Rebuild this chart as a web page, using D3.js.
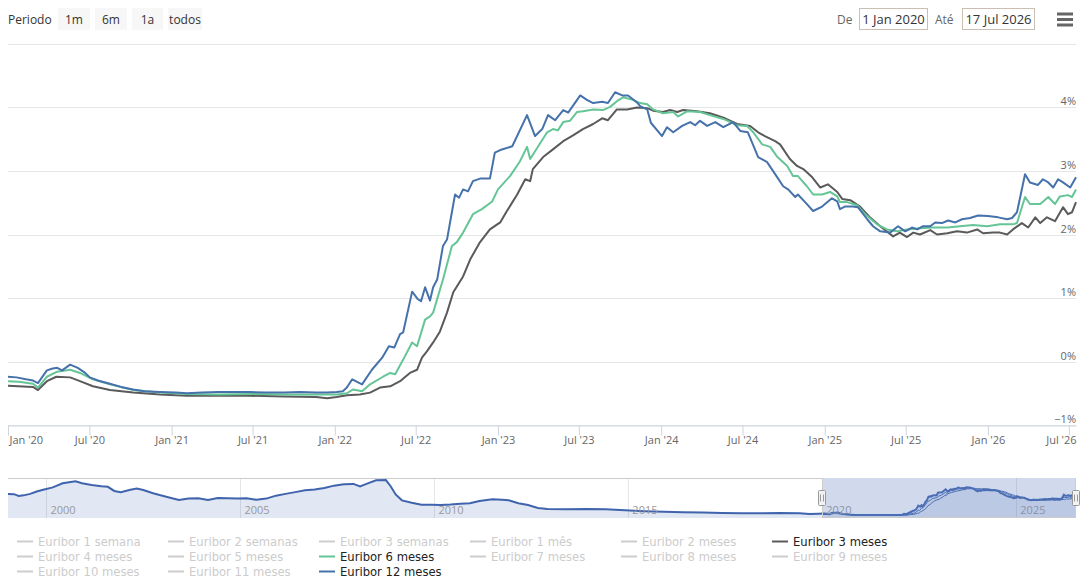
<!DOCTYPE html>
<html>
<head>
<meta charset="utf-8">
<script src="https://cdn.jsdelivr.net/npm/d3@7"></script>
<style>
  body { margin: 0; background: #fff; }
  svg { display: block; font-family: "Open Sans", sans-serif; }
</style>
</head>
<body>
<div id="chart"></div>
<script>
// ---- data ----
const startDate = "2020-01-01";
const endDate = "2026-07-17";

const eur3m = [
  ["2020-01-01", -0.38], ["2020-02-26", -0.40], ["2020-03-08", -0.45], ["2020-03-28", -0.31],
  ["2020-04-18", -0.24], ["2020-05-19", -0.25], ["2020-06-10", -0.31], ["2020-07-09", -0.39],
  ["2020-08-16", -0.45], ["2020-10-07", -0.49], ["2020-12-06", -0.52], ["2021-02-04", -0.54],
  ["2021-04-15", -0.54], ["2021-06-25", -0.54], ["2021-09-10", -0.55], ["2021-11-20", -0.56],
  ["2021-12-15", -0.58], ["2022-01-05", -0.56], ["2022-01-28", -0.53], ["2022-02-26", -0.52],
  ["2022-03-21", -0.49], ["2022-04-12", -0.41], ["2022-05-05", -0.39], ["2022-05-27", -0.31],
  ["2022-06-18", -0.18], ["2022-07-04", -0.13], ["2022-07-15", 0.06], ["2022-07-26", 0.16],
  ["2022-08-09", 0.30], ["2022-08-24", 0.47], ["2022-09-09", 0.77], ["2022-09-23", 1.09],
  ["2022-10-15", 1.34], ["2022-10-31", 1.61], ["2022-11-22", 1.88], ["2022-12-14", 2.08],
  ["2023-01-06", 2.19], ["2023-01-21", 2.37], ["2023-02-13", 2.63], ["2023-03-03", 2.87],
  ["2023-03-14", 2.84], ["2023-03-20", 3.03], ["2023-04-12", 3.22], ["2023-05-04", 3.34],
  ["2023-05-27", 3.47], ["2023-06-18", 3.56], ["2023-07-10", 3.66], ["2023-08-02", 3.74],
  ["2023-08-22", 3.83], ["2023-09-04", 3.80], ["2023-09-24", 3.97], ["2023-10-17", 3.97],
  ["2023-11-08", 4.00], ["2023-12-01", 3.99], ["2023-12-14", 3.95], ["2024-01-05", 3.93],
  ["2024-01-21", 3.96], ["2024-02-06", 3.93], ["2024-02-19", 3.96], ["2024-03-21", 3.94],
  ["2024-04-19", 3.91], ["2024-05-23", 3.83], ["2024-06-19", 3.74], ["2024-07-18", 3.71],
  ["2024-08-05", 3.61], ["2024-08-20", 3.55], ["2024-09-12", 3.47], ["2024-09-23", 3.42],
  ["2024-10-15", 3.19], ["2024-10-31", 3.08], ["2024-11-14", 3.03], ["2024-12-04", 2.90],
  ["2024-12-22", 2.74], ["2025-01-08", 2.79], ["2025-01-29", 2.67], ["2025-02-09", 2.56],
  ["2025-02-27", 2.54], ["2025-03-21", 2.44], ["2025-04-12", 2.27], ["2025-05-05", 2.13],
  ["2025-06-03", 1.97], ["2025-06-18", 2.03], ["2025-07-04", 1.96], ["2025-07-18", 2.03],
  ["2025-08-02", 2.00], ["2025-08-25", 2.07], ["2025-09-09", 2.00], ["2025-10-02", 2.02],
  ["2025-10-24", 2.05], ["2025-11-15", 2.03], ["2025-12-08", 2.08], ["2025-12-21", 2.02],
  ["2026-01-13", 2.03], ["2026-01-28", 2.03], ["2026-02-13", 2.00], ["2026-02-26", 2.08],
  ["2026-03-18", 2.18], ["2026-04-01", 2.11], ["2026-04-17", 2.27], ["2026-04-28", 2.18],
  ["2026-05-13", 2.27], ["2026-05-31", 2.21], ["2026-06-18", 2.43], ["2026-06-29", 2.32],
  ["2026-07-08", 2.35], ["2026-07-17", 2.51]
];

const eur6m = [
  ["2020-01-01", -0.31], ["2020-01-25", -0.32], ["2020-02-26", -0.35], ["2020-03-08", -0.41],
  ["2020-03-28", -0.24], ["2020-04-20", -0.16], ["2020-05-19", -0.13], ["2020-06-10", -0.18],
  ["2020-07-09", -0.28], ["2020-08-16", -0.36], ["2020-10-07", -0.45], ["2020-12-06", -0.49],
  ["2021-02-04", -0.51], ["2021-04-15", -0.52], ["2021-06-25", -0.51], ["2021-09-10", -0.52],
  ["2021-11-20", -0.52], ["2022-01-05", -0.52], ["2022-01-28", -0.50], ["2022-02-11", -0.44],
  ["2022-03-03", -0.47], ["2022-03-21", -0.36], ["2022-04-19", -0.24], ["2022-05-05", -0.18],
  ["2022-05-16", -0.20], ["2022-06-03", 0.03], ["2022-06-23", 0.30], ["2022-07-04", 0.24],
  ["2022-07-22", 0.66], ["2022-08-02", 0.71], ["2022-08-09", 0.77], ["2022-08-31", 1.29],
  ["2022-09-20", 1.82], ["2022-10-01", 1.88], ["2022-10-15", 2.03], ["2022-11-06", 2.32],
  ["2022-11-26", 2.40], ["2022-12-19", 2.52], ["2023-01-01", 2.71], ["2023-01-28", 2.92],
  ["2023-02-19", 3.15], ["2023-03-07", 3.38], ["2023-03-14", 3.19], ["2023-03-25", 3.31],
  ["2023-04-21", 3.61], ["2023-05-04", 3.66], ["2023-05-15", 3.64], ["2023-05-27", 3.77],
  ["2023-06-11", 3.79], ["2023-06-27", 3.93], ["2023-07-10", 3.94], ["2023-08-02", 3.97],
  ["2023-08-24", 3.96], ["2023-09-09", 4.01], ["2023-09-24", 4.10], ["2023-10-08", 4.16],
  ["2023-10-30", 4.12], ["2023-11-15", 4.07], ["2023-12-01", 4.05], ["2023-12-14", 3.97],
  ["2024-01-05", 3.91], ["2024-01-28", 3.93], ["2024-02-08", 3.86], ["2024-02-28", 3.94],
  ["2024-03-28", 3.93], ["2024-04-19", 3.88], ["2024-05-19", 3.82], ["2024-06-19", 3.72],
  ["2024-07-11", 3.71], ["2024-07-25", 3.61], ["2024-08-14", 3.42], ["2024-09-01", 3.38],
  ["2024-09-16", 3.23], ["2024-10-09", 3.08], ["2024-10-22", 2.92], ["2024-11-02", 2.92],
  ["2024-11-22", 2.76], ["2024-12-06", 2.63], ["2024-12-26", 2.63], ["2025-01-13", 2.67],
  ["2025-01-29", 2.60], ["2025-02-04", 2.51], ["2025-02-20", 2.51], ["2025-03-14", 2.46],
  ["2025-04-06", 2.29], ["2025-04-28", 2.16], ["2025-05-20", 2.08], ["2025-06-12", 2.05],
  ["2025-07-04", 2.08], ["2025-08-02", 2.10], ["2025-08-31", 2.11], ["2025-10-02", 2.11],
  ["2025-10-31", 2.13], ["2025-11-29", 2.15], ["2025-12-30", 2.13], ["2026-01-28", 2.16],
  ["2026-02-26", 2.16], ["2026-03-07", 2.18], ["2026-03-25", 2.59], ["2026-04-05", 2.48],
  ["2026-04-28", 2.48], ["2026-05-16", 2.59], ["2026-05-31", 2.48], ["2026-06-11", 2.60],
  ["2026-06-29", 2.62], ["2026-07-08", 2.59], ["2026-07-17", 2.71]
];

const eur12m = [
  ["2020-01-01", -0.24], ["2020-01-20", -0.25], ["2020-02-10", -0.28], ["2020-02-26", -0.30],
  ["2020-03-08", -0.34], ["2020-03-28", -0.14], ["2020-04-10", -0.11], ["2020-04-20", -0.10],
  ["2020-05-01", -0.14], ["2020-05-19", -0.05], ["2020-06-05", -0.10], ["2020-06-20", -0.17],
  ["2020-07-02", -0.25], ["2020-07-20", -0.30], ["2020-08-16", -0.35], ["2020-09-10", -0.40],
  ["2020-10-07", -0.44], ["2020-11-01", -0.47], ["2020-12-06", -0.48], ["2021-01-10", -0.49],
  ["2021-02-04", -0.50], ["2021-03-10", -0.49], ["2021-04-15", -0.48], ["2021-05-20", -0.48],
  ["2021-06-25", -0.48], ["2021-08-01", -0.49], ["2021-09-10", -0.49], ["2021-10-15", -0.48],
  ["2021-11-20", -0.49], ["2021-12-15", -0.49], ["2022-01-05", -0.48], ["2022-01-19", -0.47],
  ["2022-01-28", -0.41], ["2022-02-09", -0.28], ["2022-03-03", -0.36], ["2022-03-25", -0.13],
  ["2022-04-17", 0.06], ["2022-05-02", 0.24], ["2022-05-14", 0.22], ["2022-05-27", 0.43],
  ["2022-06-03", 0.46], ["2022-06-23", 1.10], ["2022-07-06", 0.98], ["2022-07-13", 0.95],
  ["2022-07-22", 1.17], ["2022-08-02", 0.96], ["2022-08-09", 1.17], ["2022-08-18", 1.29],
  ["2022-08-31", 1.82], ["2022-09-09", 1.92], ["2022-09-27", 2.63], ["2022-10-06", 2.58],
  ["2022-10-15", 2.71], ["2022-10-26", 2.68], ["2022-11-06", 2.84], ["2022-11-22", 2.88],
  ["2022-12-14", 2.88], ["2022-12-25", 3.29], ["2023-01-06", 3.33], ["2023-02-02", 3.39],
  ["2023-03-07", 3.88], ["2023-03-25", 3.55], ["2023-04-10", 3.66], ["2023-04-23", 3.88],
  ["2023-05-09", 3.80], ["2023-05-27", 3.96], ["2023-06-07", 3.92], ["2023-07-04", 4.19],
  ["2023-07-19", 4.12], ["2023-08-02", 4.07], ["2023-08-22", 4.09], ["2023-09-04", 4.07],
  ["2023-09-20", 4.24], ["2023-10-06", 4.19], ["2023-10-19", 4.19], ["2023-11-08", 4.08],
  ["2023-11-15", 4.02], ["2023-12-01", 3.97], ["2023-12-09", 3.76], ["2024-01-03", 3.55],
  ["2024-01-14", 3.69], ["2024-01-28", 3.61], ["2024-02-17", 3.71], ["2024-03-06", 3.77],
  ["2024-03-17", 3.72], ["2024-03-28", 3.79], ["2024-04-13", 3.71], ["2024-05-01", 3.77],
  ["2024-05-19", 3.69], ["2024-06-10", 3.77], ["2024-06-26", 3.63], ["2024-07-13", 3.61],
  ["2024-08-05", 3.22], ["2024-08-25", 3.14], ["2024-09-12", 2.95], ["2024-09-30", 2.76],
  ["2024-10-11", 2.71], ["2024-10-27", 2.59], ["2024-11-02", 2.63], ["2024-11-18", 2.51],
  ["2024-12-06", 2.37], ["2024-12-26", 2.44], ["2025-01-17", 2.57], ["2025-01-29", 2.52],
  ["2025-02-04", 2.40], ["2025-02-15", 2.44], ["2025-03-05", 2.44], ["2025-03-16", 2.43],
  ["2025-04-06", 2.24], ["2025-04-19", 2.13], ["2025-05-05", 2.05], ["2025-05-27", 2.03],
  ["2025-06-14", 2.13], ["2025-06-30", 2.05], ["2025-07-15", 2.11], ["2025-07-27", 2.08],
  ["2025-08-09", 2.13], ["2025-08-25", 2.13], ["2025-09-05", 2.19], ["2025-09-20", 2.18],
  ["2025-10-04", 2.22], ["2025-10-20", 2.19], ["2025-11-04", 2.24], ["2025-11-22", 2.26],
  ["2025-12-10", 2.30], ["2026-01-01", 2.29], ["2026-01-24", 2.27], ["2026-02-13", 2.24],
  ["2026-02-24", 2.26], ["2026-03-07", 2.35], ["2026-03-25", 2.95], ["2026-04-05", 2.82],
  ["2026-04-23", 2.78], ["2026-05-04", 2.87], ["2026-05-16", 2.82], ["2026-05-27", 2.74],
  ["2026-06-07", 2.87], ["2026-06-18", 2.82], ["2026-07-04", 2.74], ["2026-07-17", 2.90]
];

// older 12m history, only seen in the navigator
const hist12m = [
  ["1999-01-04", 3.10], ["1999-03-01", 3.05], ["1999-04-15", 2.75], ["1999-06-01", 2.85],
  ["1999-08-01", 3.10], ["1999-10-01", 3.50], ["1999-12-01", 3.80], ["2000-03-01", 4.20],
  ["2000-06-01", 4.90], ["2000-10-01", 5.25], ["2000-12-01", 4.90], ["2001-03-01", 4.60],
  ["2001-06-01", 4.40], ["2001-08-01", 4.30], ["2001-10-01", 3.60], ["2001-12-01", 3.40],
  ["2002-03-01", 3.80], ["2002-05-01", 4.00], ["2002-07-01", 3.75], ["2002-10-01", 3.20],
  ["2002-12-01", 2.90], ["2003-03-01", 2.50], ["2003-06-01", 2.05], ["2003-09-01", 2.30],
  ["2003-12-01", 2.35], ["2004-03-01", 2.05], ["2004-06-01", 2.40], ["2004-12-01", 2.30],
  ["2005-03-01", 2.35], ["2005-06-01", 2.10], ["2005-09-01", 2.30], ["2005-12-01", 2.80],
  ["2006-03-01", 3.10], ["2006-06-01", 3.40], ["2006-09-01", 3.70], ["2006-12-01", 3.85],
  ["2007-03-01", 4.10], ["2007-06-01", 4.50], ["2007-09-01", 4.75], ["2007-12-01", 4.80],
  ["2008-02-01", 4.35], ["2008-04-01", 4.80], ["2008-07-01", 5.40], ["2008-10-01", 5.45],
  ["2008-11-15", 4.40], ["2009-01-01", 3.00], ["2009-03-01", 2.00], ["2009-06-01", 1.60],
  ["2009-09-01", 1.26], ["2009-12-01", 1.25], ["2010-03-01", 1.20], ["2010-06-01", 1.28],
  ["2010-09-01", 1.42], ["2010-12-01", 1.50], ["2011-03-01", 1.90], ["2011-07-01", 2.18],
  ["2011-10-01", 2.10], ["2011-12-01", 2.00], ["2012-03-01", 1.50], ["2012-06-01", 1.20],
  ["2012-09-01", 0.70], ["2012-12-01", 0.55], ["2013-06-01", 0.50], ["2013-12-01", 0.55],
  ["2014-06-01", 0.50], ["2014-12-01", 0.33], ["2015-06-01", 0.16], ["2015-12-01", 0.06],
  ["2016-06-01", -0.03], ["2016-12-01", -0.08], ["2017-06-01", -0.15], ["2017-12-01", -0.19],
  ["2018-06-01", -0.18], ["2018-12-01", -0.13], ["2019-06-01", -0.19], ["2019-09-01", -0.34],
  ["2019-12-01", -0.26]
];

const yTicks = [-1, 0, 1, 2, 3, 4, 5];
const navYears = [2000, 2005, 2010, 2015, 2020, 2025];
const rangeButtons = ["1m", "6m", "1a", "todos"];

const legendNames = [
  "Euribor 1 semana", "Euribor 2 semanas", "Euribor 3 semanas", "Euribor 1 mês", "Euribor 2 meses", "Euribor 3 meses",
  "Euribor 4 meses", "Euribor 5 meses", "Euribor 6 meses", "Euribor 7 meses", "Euribor 8 meses", "Euribor 9 meses",
  "Euribor 10 meses", "Euribor 11 meses", "Euribor 12 meses"
];

// ---- layout ----
const W = 1090, H = 583;
const plotL = 8, plotR = 1076, plotT = 44, plotB = 425;
const navT = 478, navB = 518;

const parse = d3.timeParse("%Y-%m-%d");
const toPts = arr => arr.map(d => ({ date: parse(d[0]), value: d[1] }));

const series = [
  { name: "Euribor 3 meses", data: toPts(eur3m), color: "#5a5a5a" },
  { name: "Euribor 6 meses", data: toPts(eur6m), color: "#65c596" },
  { name: "Euribor 12 meses", data: toPts(eur12m), color: "#4672ab" }
];

const svg = d3.select("#chart").append("svg")
    .attr("width", W)
    .attr("height", H);

// ---- range selector ----
const selector = svg.append("g");
selector.append("text").attr("x", 8).attr("y", 24)
    .style("font-size", "12px").style("fill", "#333").text("Periodo");

const btnX = [58, 95, 132, 168], btnW = [32, 32, 31, 34];
rangeButtons.forEach((b, i) => {
  selector.append("rect").attr("x", btnX[i]).attr("y", 8).attr("width", btnW[i]).attr("height", 22)
      .style("fill", "#f7f7f7");
  selector.append("text").attr("x", btnX[i] + btnW[i] / 2).attr("y", 24)
      .attr("text-anchor", "middle")
      .style("font-size", "12px").style("fill", "#333").text(b);
});

const fmtInput = d3.timeFormat("%-d %b %Y");
selector.append("text").attr("x", 837).attr("y", 24).style("font-size", "12px").style("fill", "#666").text("De");
selector.append("rect").attr("x", 859.5).attr("y", 8.5).attr("width", 68).attr("height", 21)
    .style("fill", "#fff").style("stroke", "#cbbfb4");
selector.append("text").attr("x", 893.5).attr("y", 24).attr("text-anchor", "middle")
    .style("font-size", "13px").style("fill", "#333").text(fmtInput(parse(startDate)));
selector.append("text").attr("x", 935).attr("y", 24).style("font-size", "12px").style("fill", "#666").text("Até");
selector.append("rect").attr("x", 962.5).attr("y", 8.5).attr("width", 72).attr("height", 21)
    .style("fill", "#fff").style("stroke", "#cbbfb4");
selector.append("text").attr("x", 998.5).attr("y", 24).attr("text-anchor", "middle")
    .style("font-size", "13px").style("fill", "#333").text(fmtInput(parse(endDate)));

[12.5, 18, 23.5].forEach(yy => {
  selector.append("rect").attr("x", 1057).attr("y", yy).attr("width", 16).attr("height", 3)
      .style("fill", "#666");
});

// ---- main plot ----
const x = d3.scaleTime()
    .domain([parse(startDate), parse(endDate)])
    .range([plotL, plotR]);

const y = d3.scaleLinear()
    .domain([-1, 5])
    .range([plotB, plotT]);

const grid = svg.append("g");
yTicks.forEach(t => {
  grid.append("line")
      .attr("x1", plotL).attr("x2", plotR)
      .attr("y1", Math.round(y(t)) + 0.5).attr("y2", Math.round(y(t)) + 0.5)
      .style("stroke", "#e6e6e6");
  if (t !== 5) {
    grid.append("text")
        .attr("x", plotR).attr("y", Math.round(y(t)) - 2)
        .attr("text-anchor", "end")
        .style("font-size", "11px").style("fill", "#666")
        .text((t < 0 ? "\u2212" + Math.abs(t) : t) + "%");
  }
});

const xTicks = d3.timeMonth.every(6).range(parse("2020-01-01"), parse(endDate));
const fmtTick = d3.timeFormat("%b '%y");

const xAxis = svg.append("g")
    .attr("transform", `translate(0,${plotB + 0.5})`)
    .call(d3.axisBottom(x).tickValues(xTicks).tickFormat(fmtTick).tickSize(10).tickSizeOuter(0));

xAxis.select(".domain").style("stroke", "#cfd5dd");
xAxis.selectAll(".tick line").style("stroke", "#cfd5dd");
xAxis.selectAll(".tick text")
    .attr("y", 18.5).attr("dy", 0)
    .style("font-family", "Open Sans").style("font-size", "11px").style("fill", "#666");
xAxis.selectAll(".tick text").filter((d, i) => i === 0)
    .attr("text-anchor", "start").attr("x", 1);
xAxis.selectAll(".tick text").filter((d, i) => i === xTicks.length - 1)
    .attr("text-anchor", "end").attr("x", d => plotR - x(d));

svg.append("clipPath").attr("id", "plotClip")
  .append("rect").attr("x", plotL).attr("y", plotT - 5)
    .attr("width", plotR - plotL + 2).attr("height", plotB - plotT + 5);

const line = d3.line()
    .x(d => x(d.date))
    .y(d => y(d.value));

const lines = svg.append("g").attr("clip-path", "url(#plotClip)");
series.forEach(s => {
  lines.append("path")
      .datum(s.data)
      .attr("d", line)
      .style("fill", "none")
      .style("stroke", s.color)
      .style("stroke-width", 2)
      .style("stroke-linejoin", "round");
});

// ---- navigator ----
const xNav = d3.scaleTime()
    .domain([parse(hist12m[0][0]), parse(endDate)])
    .range([plotL, plotR]);

const yNav = d3.scaleLinear()
    .domain([-1.0, 5.8])
    .range([navB, navT]);

const nav = svg.append("g");

navYears.forEach(yr => {
  const xx = Math.round(xNav(new Date(yr, 0, 1))) + 0.5;
  nav.append("line").attr("x1", xx).attr("x2", xx).attr("y1", navT).attr("y2", navB)
      .style("stroke", "#e6e6e6");
});

const full12 = toPts(hist12m).concat(series[2].data);

const navArea = d3.area()
    .x(d => xNav(d.date))
    .y0(navB)
    .y1(d => yNav(d.value));
const navLine = d3.line()
    .x(d => xNav(d.date))
    .y(d => yNav(d.value));

nav.append("path").datum(full12).attr("d", navArea)
    .style("fill", "#335cad").style("fill-opacity", 0.15);
nav.append("path").datum(full12).attr("d", navLine)
    .style("fill", "none").style("stroke", "#3f64ad").style("stroke-width", 2);
series.slice(0, 2).forEach(s => {
  nav.append("path").datum(s.data).attr("d", navLine)
      .style("fill", "none").style("stroke", "#3f64ad").style("stroke-width", 1);
});

navYears.forEach(yr => {
  const xx = xNav(new Date(yr, 0, 1));
  nav.append("text").attr("x", xx + 4).attr("y", navB - 4)
      .style("font-size", "11px").style("fill", "#999").text(yr);
});

const zMin = Math.round(xNav(parse(startDate))), zMax = plotR;
nav.append("rect")
    .attr("x", zMin).attr("y", navT)
    .attr("width", zMax - zMin).attr("height", navB - navT)
    .style("fill", "rgba(102,133,194,0.3)");

nav.append("path")
    .attr("d", `M${plotL},${navT + 0.5}L${zMin + 0.5},${navT + 0.5}L${zMin + 0.5},${navB - 0.5}L${zMax - 0.5},${navB - 0.5}L${zMax - 0.5},${navT + 0.5}L${plotR},${navT + 0.5}`)
    .style("fill", "none").style("stroke", "#cccccc");

[zMin, zMax].forEach(hx => {
  const g = nav.append("g").attr("transform", `translate(${hx},${(navT + navB) / 2})`);
  g.append("rect").attr("x", -3.5).attr("y", -7.5).attr("width", 7).attr("height", 15)
      .attr("rx", 1).style("fill", "#f2f2f2").style("stroke", "#999");
  g.append("path").attr("d", "M-1.5,-3.5V3.5M1.5,-3.5V3.5")
      .style("stroke", "#999").style("fill", "none");
});

// ---- legend ----
const legend = svg.append("g").style("font-family", "'DejaVu Sans', sans-serif");
legendNames.forEach((name, i) => {
  const col = i % 6, row = Math.floor(i / 6);
  const lx = 17 + col * 151, ly = 541.5 + row * 15;
  const active = series.find(s => s.name === name);
  legend.append("line")
      .attr("x1", lx).attr("x2", lx + 16).attr("y1", ly).attr("y2", ly)
      .style("stroke", active ? active.color : "#cccccc").style("stroke-width", 2);
  legend.append("text")
      .attr("x", lx + 21).attr("y", ly + 4)
      .style("font-size", "11.6px")
      .style("fill", active ? "#222222" : "#cccccc")
      .text(name);
});
</script>
</body>
</html>
